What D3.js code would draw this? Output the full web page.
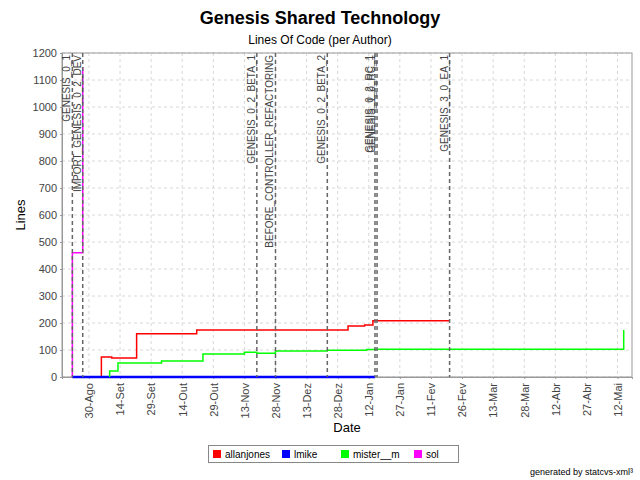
<!DOCTYPE html>
<html><head><meta charset="utf-8">
<script src="https://cdn.jsdelivr.net/npm/d3@7"></script>
<style>body{margin:0;background:#fff;font-family:"Liberation Sans",Arial,sans-serif}</style>
</head><body><div id="chart"></div>
<script>
// data: [date, lines] step points
const authors = ["allanjones", "lmike", "mister__m", "sol"];
const colors = ["#ff0000", "#0000ff", "#00ff00", "#ff00ff"];
const allanjones = [["2004-08-31",0],["2004-09-05",74],["2004-09-10",70],["2004-09-22",160],["2004-10-21",174],["2005-01-02",189],["2005-01-10",193],["2005-01-14",208],["2005-02-20",208]];
const lmike = [["2004-08-22",0],["2005-01-15",0]];
const misterM = [["2004-09-09",0],["2004-09-09",22],["2004-09-13",52],["2004-10-04",59],["2004-10-24",85],["2004-11-13",92],["2004-11-19",88],["2004-11-28",96],["2004-12-23",99],["2005-01-11",102],["2005-01-15",103],["2005-05-15",174]];
const sol = [["2004-08-22",0],["2004-08-22",460],["2004-08-27",1148]];
const seriesValues = [allanjones, lmike, misterM, sol];
const markers = [["2004-08-22","GENESIS_0_1"],["2004-08-27","IMPORT_GENESIS_0_2_DEV"],["2004-11-19","GENESIS_0_2_BETA_1"],["2004-11-28","BEFORE_CONTROLLER_REFACTORING"],["2004-12-23","GENESIS_0_2_BETA_2"],["2005-01-15","GENESIS_0_2_RC_1"],["2005-01-16","GENESIS_1_0_RC_1"],["2005-02-20","GENESIS_3_0_EA_1"]];
const months = ["Jan","Fev","Mar","Abr","Mai","Jun","Jul","Ago","Set","Out","Nov","Dez"];
const yTicks = d3.range(0, 1201, 100);

const W = 640, H = 480;
const m = {top: 53, right: 8, bottom: 103, left: 62};
const parse = d3.timeParse("%Y-%m-%d");
const svg = d3.select("#chart").append("svg").attr("width", W).attr("height", H)
  .attr("font-family", "Liberation Sans");

const x = d3.scaleTime().domain([parse("2004-08-17"), parse("2005-05-19")]).range([m.left, W - m.right]);
const y = d3.scaleLinear().domain([0, 1200]).range([H - m.bottom, m.top]);

// x ticks every 15 days from 30-Ago
const xTicks = [];
for (let d = parse("2004-08-30"); d <= x.domain()[1]; d = d3.timeDay.offset(d, 15)) xTicks.push(d);

// grid
svg.append("g").selectAll("line").data(yTicks).join("line")
  .attr("x1", m.left).attr("x2", W - m.right).attr("y1", d => y(d)).attr("y2", d => y(d))
  .attr("stroke", "#d8d8d8").attr("stroke-dasharray", "3,3");
svg.append("g").selectAll("line").data(xTicks).join("line")
  .attr("y1", m.top).attr("y2", H - m.bottom).attr("x1", d => x(d)).attr("x2", d => x(d))
  .attr("stroke", "#d8d8d8").attr("stroke-dasharray", "3,3");

svg.append("rect").attr("x", m.left).attr("y", m.top).attr("width", W - m.right - m.left)
  .attr("height", H - m.bottom - m.top).attr("fill", "none").attr("stroke", "#999");

// axes
const yAxis = svg.append("g").attr("transform", `translate(${m.left},0)`)
  .call(d3.axisLeft(y).tickValues(yTicks).tickSize(2).tickPadding(3).tickFormat(d3.format("d")));
const xAxis = svg.append("g").attr("transform", `translate(0,${H - m.bottom})`)
  .call(d3.axisBottom(x).tickValues(xTicks).tickSize(2)
    .tickFormat(d => d.getDate() + "-" + months[d.getMonth()]));
xAxis.selectAll("text").attr("transform", "rotate(-90)").attr("text-anchor", "end")
  .attr("x", -6).attr("y", 0).attr("dy", "0.35em");
[xAxis, yAxis].forEach(a => {
  a.selectAll("text").attr("font-size", 11).attr("fill", "#444").attr("font-family", "Liberation Sans");
  a.select(".domain").attr("stroke", "#999");
  a.selectAll(".tick line").attr("stroke", "#999");
});

// series
const line = d3.line().x(d => x(parse(d[0]))).y(d => y(d[1])).curve(d3.curveStepAfter);
seriesValues.forEach((s, i) => {
  svg.append("path").datum(s).attr("d", line).attr("fill", "none")
    .attr("stroke", colors[i]).attr("stroke-width", i === 1 ? 2.5 : 1.5);
});

// markers
const mk = svg.append("g");
mk.selectAll("line").data(markers).join("line")
  .attr("x1", d => x(parse(d[0]))).attr("x2", d => x(parse(d[0])))
  .attr("y1", m.top).attr("y2", H - m.bottom)
  .attr("stroke", "#666").attr("stroke-width", 1.5).attr("stroke-dasharray", "4,3");
mk.selectAll("text").data(markers).join("text")
  .attr("transform", d => `translate(${x(parse(d[0])) - 2},${m.top + 2}) rotate(-90)`)
  .attr("text-anchor", "end").attr("font-size", 10).attr("fill", "#444").text(d => d[1]);

// titles
svg.append("text").attr("x", W / 2).attr("y", 24).attr("text-anchor", "middle")
  .attr("font-size", 18).attr("font-weight", "bold").text("Genesis Shared Technology");
svg.append("text").attr("x", W / 2).attr("y", 44).attr("text-anchor", "middle")
  .attr("font-size", 12).text("Lines Of Code (per Author)");
svg.append("text").attr("transform", `translate(25,${(m.top + H - m.bottom) / 2}) rotate(-90)`)
  .attr("text-anchor", "middle").attr("font-size", 13).text("Lines");
svg.append("text").attr("x", (m.left + W - m.right) / 2).attr("y", 432).attr("text-anchor", "middle")
  .attr("font-size", 13).text("Date");

// legend
const lg = svg.append("g");
lg.append("rect").attr("x", 208.5).attr("y", 445.5).attr("width", 250).attr("height", 17)
  .attr("fill", "#fff").attr("stroke", "#888");
const lx = [213, 282, 341, 414];
authors.forEach((a, i) => {
  lg.append("rect").attr("x", lx[i]).attr("y", 450).attr("width", 8).attr("height", 8).attr("fill", colors[i]);
  lg.append("text").attr("x", lx[i] + 12).attr("y", 458).attr("font-size", 10).text(a);
});
svg.append("text").attr("x", 633).attr("y", 475).attr("text-anchor", "end").attr("font-size", 9)
  .text("generated by statcvs-xml³");
</script></body></html>
